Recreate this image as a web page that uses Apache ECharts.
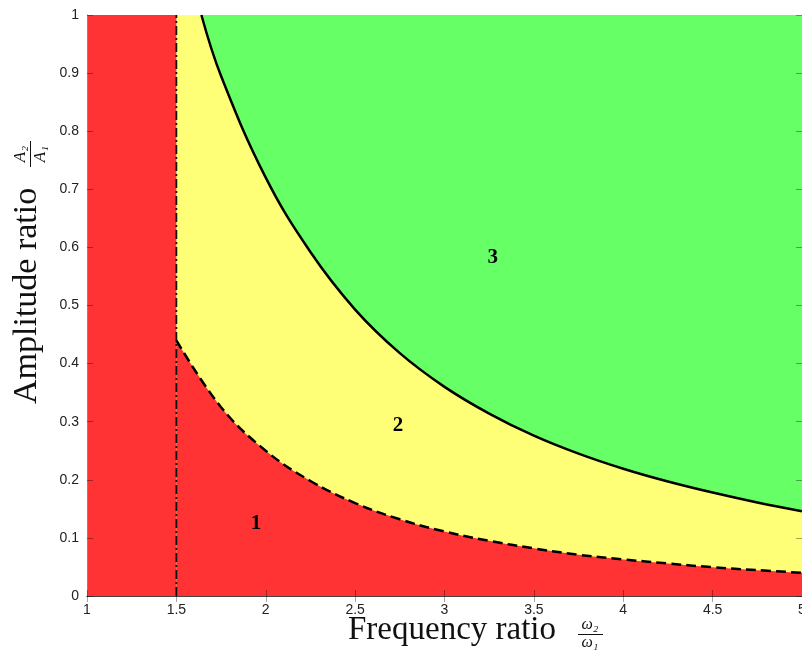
<!DOCTYPE html>
<html lang="en">
<head>
    <meta charset="UTF-8">
    <title>Amplitude ratio vs frequency ratio</title>
    <script src="https://cdn.jsdelivr.net/npm/echarts@6/dist/echarts.min.js"></script>
</head>
<style>
    *{
        margin: 0;
        padding: 0;
    }
    html , body{
        overflow: hidden;
        height: 100%;
        width: 100%;
        background: #fff;
    }
    .contain{
        width: 802px;
        height: 653px;
    }
</style>
<body>
<div class="contain"></div>
<script>
    // lower boundary (dashed) between region 1 and 2
    let lowerFreq = [1.5, 1.75, 2, 2.25, 2.5, 2.75, 3, 3.25, 3.5, 3.75, 4, 4.25, 4.5, 4.75, 5];
    let lowerAmp = [0.44, 0.325, 0.25, 0.198, 0.16, 0.132, 0.111, 0.095, 0.082, 0.071, 0.063, 0.056, 0.0495, 0.0445, 0.04];

    // upper boundary (solid) between region 2 and 3
    let upperFreq = [1.64, 1.75, 2, 2.25, 2.5, 2.75, 3, 3.25, 3.5, 3.75, 4, 4.25, 4.5, 4.75, 5];
    let upperAmp = [1.0, 0.895, 0.72, 0.592, 0.493, 0.418, 0.36, 0.314, 0.276, 0.245, 0.219, 0.197, 0.178, 0.161, 0.146];

    // vertical limit at ω2/ω1 = 1.5
    let limitFreq = [1.5, 1.5];
    let limitAmp = [0, 1];

    // region labels
    let regionNames = ['1', '2', '3'];
    let regionFreq = [1.945, 2.74, 3.27];
    let regionAmp = [0.124, 0.294, 0.582];

    let zip = (xs, ys) => xs.map((x, i) => [x, ys[i]]);

    let chart = echarts.init(document.querySelector('.contain'));

    let red = '#FF3333';
    let yellow = '#FFFF77';
    let green = '#66FF66';
    let serif = '"Liberation Serif", "DejaVu Serif", serif';
    let sans = 'Arial, "Liberation Sans", sans-serif';

    let tickStyle = {inside: true, length: 6, lineStyle: {color: 'rgba(0,0,0,0.35)', width: 1}};

    let option = {
        animation: false,
        grid: {
            left: 87, top: 15, right: 0, bottom: 57,
            outerBoundsMode: 'none',
            containLabel: false,
            show: true,
            backgroundColor: red,
            borderWidth: 0
        },
        xAxis: [{
            type: 'value', min: 1, max: 5, interval: 0.5, z: 10,
            axisLine: {lineStyle: {color: '#888', width: 1}},
            axisTick: tickStyle,
            axisLabel: {color: '#222', fontSize: 14, fontFamily: sans, margin: 7},
            splitLine: {show: false}
        }, {
            type: 'value', min: 1, max: 5, interval: 0.5, position: 'top', z: 10,
            axisLine: {show: true, lineStyle: {color: '#444', width: 1.2}},
            axisTick: tickStyle,
            axisLabel: {show: false},
            splitLine: {show: false}
        }],
        yAxis: [{
            type: 'value', min: 0, max: 1, interval: 0.1, z: 10,
            axisLine: {show: true, lineStyle: {color: '#888', width: 1}},
            axisTick: tickStyle,
            axisLabel: {color: '#222', fontSize: 14, fontFamily: sans, margin: 8},
            splitLine: {show: false}
        }, {
            type: 'value', min: 0, max: 1, interval: 0.1, position: 'right', z: 10,
            axisLine: {show: false},
            axisTick: tickStyle,
            axisLabel: {show: false},
            splitLine: {show: false}
        }],
        series: [
            {
                // region 2 base fill
                type: 'line',
                data: [[1.5, 1], [5, 1]],
                symbol: 'none',
                lineStyle: {width: 0},
                areaStyle: {color: yellow, opacity: 1, origin: 'start'},
                silent: true
            },
            {
                // region 1 under the dashed curve
                type: 'line',
                data: zip(lowerFreq, lowerAmp),
                smooth: 0.4,
                symbol: 'none',
                lineStyle: {color: '#000', width: 2.5, type: [10, 5]},
                areaStyle: {color: red, opacity: 1, origin: 'start'},
                silent: true
            },
            {
                // region 3 above the solid curve
                type: 'line',
                data: zip(upperFreq, upperAmp),
                smooth: 0.4,
                symbol: 'none',
                lineStyle: {color: '#000', width: 2.5},
                areaStyle: {color: green, opacity: 1, origin: 'end'},
                silent: true
            },
            {
                type: 'line',
                data: zip(limitFreq, limitAmp),
                symbol: 'none',
                lineStyle: {color: '#111', width: 1.8, type: [9, 3, 2, 3]},
                silent: true
            },
            {
                type: 'scatter',
                data: regionFreq.map((x, i) => [x, regionAmp[i], regionNames[i]]),
                symbolSize: 1,
                itemStyle: {color: 'transparent', opacity: 1},
                z: 5,
                label: {
                    show: true,
                    position: 'inside',
                    formatter: p => p.data[2],
                    color: '#000',
                    opacity: 1,
                    textBorderWidth: 0,
                    fontSize: 21,
                    fontWeight: 'bold',
                    fontFamily: serif
                },
                silent: true
            }
        ],
        graphic: [
            {
                type: 'group',
                x: 348, y: 614,
                children: [
                    {type: 'text', x: 0, y: 0, style: {text: 'Frequency ratio', font: '33px ' + serif, fill: '#111'}},
                    {type: 'text', x: 242, y: 19, style: {text: 'ω₂', font: 'italic 16px ' + serif, fill: '#111', align: 'center', verticalAlign: 'bottom'}},
                    {type: 'line', shape: {x1: 230, y1: 20.5, x2: 255, y2: 20.5}, style: {stroke: '#111', lineWidth: 1}},
                    {type: 'text', x: 242, y: 21, style: {text: 'ω₁', font: 'italic 16px ' + serif, fill: '#111', align: 'center', verticalAlign: 'top'}}
                ]
            },
            {
                type: 'group',
                x: 10, y: 404,
                rotation: Math.PI / 2,
                children: [
                    {type: 'text', x: 0, y: 0, style: {text: 'Amplitude ratio', font: '34px ' + serif, fill: '#111'}},
                    {type: 'text', x: 250, y: 19, style: {text: 'A₂', font: 'italic 17px ' + serif, fill: '#111', align: 'center', verticalAlign: 'bottom'}},
                    {type: 'line', shape: {x1: 237, y1: 20.5, x2: 263, y2: 20.5}, style: {stroke: '#111', lineWidth: 1}},
                    {type: 'text', x: 250, y: 22, style: {text: 'A₁', font: 'italic 17px ' + serif, fill: '#111', align: 'center', verticalAlign: 'top'}}
                ]
            }
        ]
    };

    chart.setOption(option);
</script>
</body>
</html>
